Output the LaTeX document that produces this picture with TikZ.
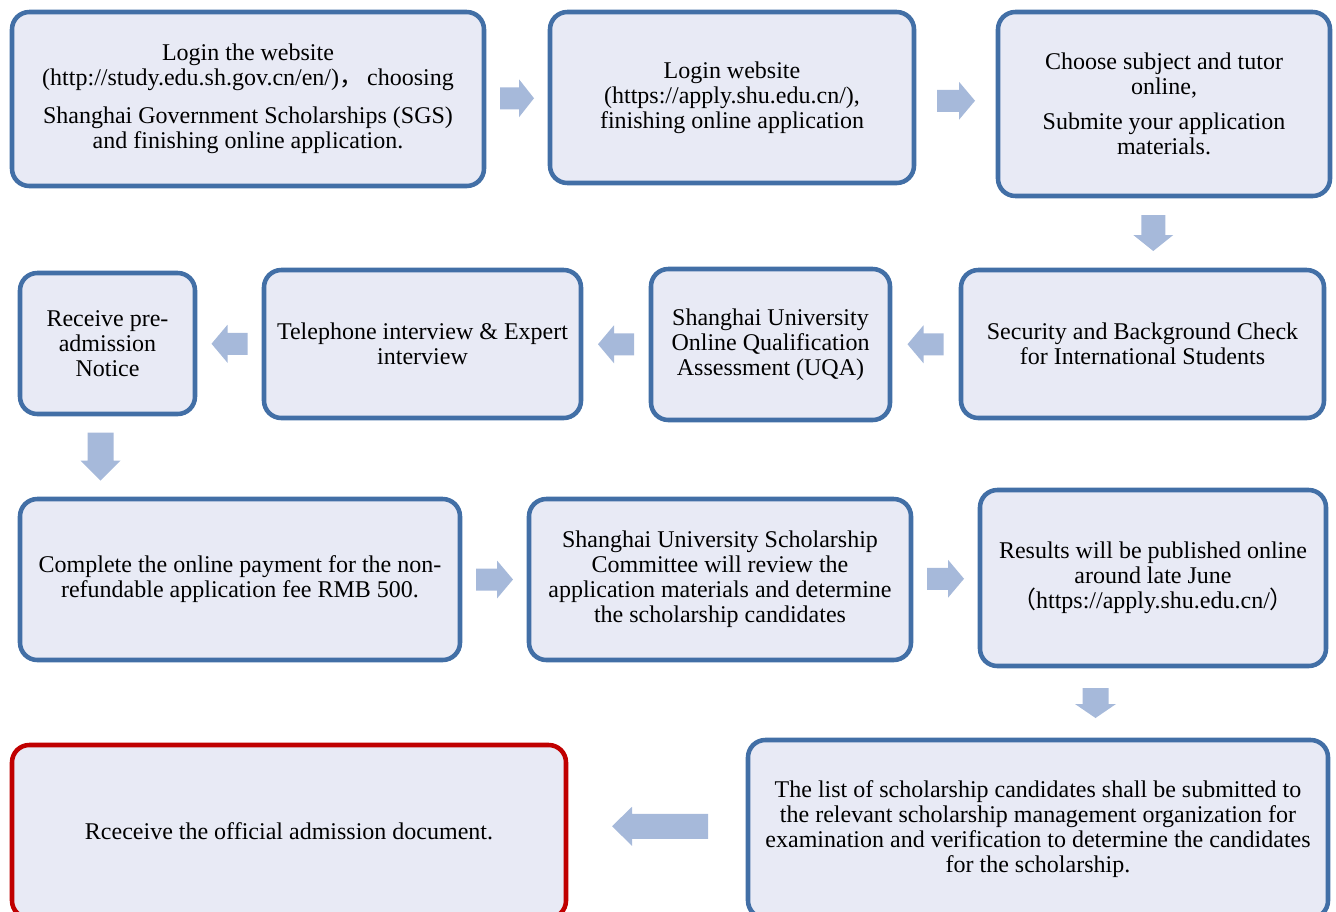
\documentclass[tikz,border=0pt]{standalone}
\usepackage{fontspec}
\setmainfont{Liberation Serif}
\newfontfamily\cjk{Noto Sans CJK SC}
\usetikzlibrary{calc}
\definecolor{boxfill}{HTML}{E8EAF5}
\definecolor{boxline}{HTML}{426FA6}
\definecolor{arrowc}{HTML}{A6B9DA}
\definecolor{redline}{HTML}{C00000}
\tikzset{
  box/.style={draw=boxline, fill=boxfill, line width=3.4pt, rounded corners=13pt,
    align=center, inner sep=0pt, font=\fontsize{18}{18.75}\selectfont},
  redbox/.style={box, draw=redline},
  pics/barrow/.style args={#1/#2/#3/#4}{code={
    \fill[arrowc] ({-#1/2},{-#3/2}) -- ({#1/2-#2},{-#3/2}) -- ({#1/2-#2},{-#4/2})
      -- ({#1/2},0) -- ({#1/2-#2},{#4/2}) -- ({#1/2-#2},{#3/2}) -- ({-#1/2},{#3/2}) -- cycle;
  }}
}
\newcommand\flowbox[7]{\node[#1, minimum width={(#5-#3)*0.75pt}, minimum height={(#6-#4)*0.75pt}]
  (#2) at ({(#3+#5)/2},{(#4+#6)/2}) {#7};}
\begin{document}
\begin{tikzpicture}[x=0.75pt, y=-0.75pt]
\useasboundingbox (0,0) rectangle (1336,911);
% row 1
\flowbox{box}{b1}{12}{12}{484}{186}{Login the website\\(http://study.edu.sh.gov.cn/en/){\cjk ，}\,choosing\\[10pt]Shanghai Government Scholarships (SGS)\\and finishing online application.}
\flowbox{box}{b2}{550}{12}{914}{183}{Login website\\(https://apply.shu.edu.cn/),\\finishing online application}
\flowbox{box}{b3}{998}{12}{1330}{196}{Choose subject and tutor\\online,\\[8pt]Submite your application\\materials.}
% row 2
\flowbox{box}{b4}{961}{270}{1324}{418}{Security and Background Check\\for International Students}
\flowbox{box}{b5}{651}{269}{890}{420}{Shanghai University\\Online Qualification\\Assessment (UQA)}
\flowbox{box}{b6}{264}{270}{581}{418}{Telephone interview \& Expert\\interview}
\flowbox{box}{b7}{20}{273}{195}{414}{Receive pre-\\admission\\Notice}
% row 3
\flowbox{box}{b8}{20}{499}{460}{660}{Complete the online payment for the non-\\refundable application fee RMB 500.}
\flowbox{box}{b9}{529}{499}{911}{660}{Shanghai University Scholarship\\Committee will review the\\application materials and determine\\the scholarship candidates}
\flowbox{box}{b10}{980}{490}{1326}{666}{Results will be published online\\around late June\\{\cjk （}https://apply.shu.edu.cn/{\cjk ）}}
% row 4
\flowbox{box}{b11}{748}{740}{1328}{918}{The list of scholarship candidates shall be submitted to\\the relevant scholarship management organization for\\examination and verification to determine the candidates\\for the scholarship.}
\flowbox{redbox}{b12}{12}{745}{566}{918}{Rceceive the official admission document.}
% connectors (block arrows)
\pic at ($(b1.east)!0.5!(b2.west)$) {barrow=34/15/22/38};
\pic at ($(b2.east)!0.5!(b3.west)$) {barrow=38/16/22/38};
\pic[rotate=-90] at ($(b3.south)!0.5!(b4.north)$) {barrow=36/16/24/40};
\pic[rotate=180] at ($(b4.west)!0.5!(b5.east)$) {barrow=36/16/22/38};
\pic[rotate=180] at ($(b5.west)!0.5!(b6.east)$) {barrow=36/16/22/38};
\pic[rotate=180] at ($(b6.west)!0.5!(b7.east)$) {barrow=36/16/22/38};
\pic[rotate=-90] at ($(b7.south)!0.5!(b7.south|-b8.north)+(-7,0)$) {barrow=48/20/26/40};
\pic at ($(b8.east)!0.5!(b9.west)$) {barrow=37/16/22/38};
\pic at ($(b9.east)!0.5!(b10.west)$) {barrow=37/16/22/38};
\pic[rotate=-90] at ($(b10.south)!0.5!(b11.north)$) {barrow=30/14/26/41};
\pic[rotate=180] at ($(b11.west)!0.5!(b12.east)+(3,-4)$) {barrow=96/20/25/39};
\end{tikzpicture}
\end{document}
